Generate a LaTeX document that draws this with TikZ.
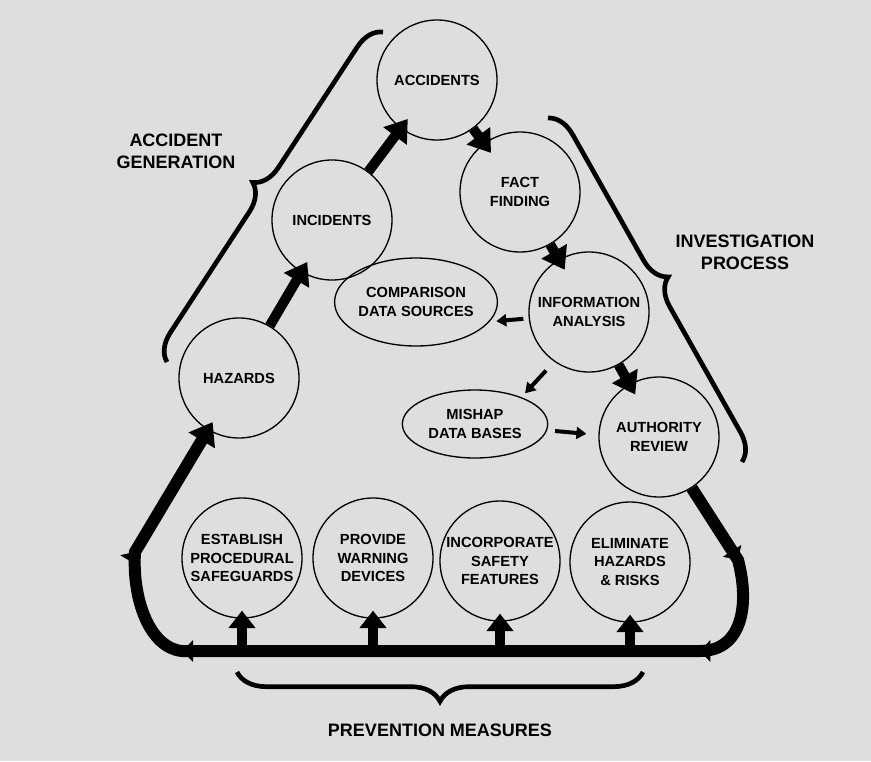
\documentclass[tikz,border=0pt]{standalone}
\usepackage{fontspec}
\setmainfont{Liberation Sans}
\usetikzlibrary{arrows.meta,shapes.geometric,decorations.pathreplacing,decorations.markings,calc}
\begin{document}
\begin{tikzpicture}[x=0.75pt,y=-0.75pt,
  stage/.style={circle,draw=black,line width=1pt,minimum size=90pt,inner sep=0pt,
    align=center,font=\bfseries\fontsize{11}{14}\selectfont},
  source/.style={ellipse,draw=black,line width=1pt,inner sep=0pt,
    align=center,font=\bfseries\fontsize{11}{14}\selectfont},
  heading/.style={align=center,font=\bfseries\fontsize{13.5}{16.5}\selectfont},
  flow/.style={line width=7.5pt,-{Triangle[width=21pt,length=16pt]},shorten >=-9pt},
  lift/.style={line width=7.5pt,-{Triangle[width=19.5pt,length=13pt]},shorten >=-6pt},
  feed/.style={line width=3pt,-{Triangle[width=9pt,length=7.5pt]}},
  returnpath/.style={line width=9pt,-{Triangle[width=22pt,length=16pt]},shorten >=-7pt,
    postaction={decorate,decoration={markings,
      mark=at position 64pt with {\arrow{Triangle[width=16pt,length=8pt]}},
      mark=at position 151pt with {\arrow{Triangle[width=16pt,length=8pt]}},
      mark=at position 539pt with {\arrow{Triangle[width=16pt,length=8pt]}},
      mark=at position 629pt with {\arrow{Triangle[width=16pt,length=8pt]}}}}},
  bracket/.style={line width=3.5pt,decorate,decoration={brace,amplitude=#1}}
]
% halftone-grey page
\fill[black!13] (0,0) rectangle (871,761);

% accident chain
\node[stage] (acc) at (437,80) {ACCIDENTS};
\node[stage] (inc) at (332,220) {INCIDENTS};
\node[stage] (haz) at (239,378) {HAZARDS};

% investigation chain
\node[stage] (fact) at (520,192) {FACT\\FINDING};
\node[stage] (info) at (589,312) {INFORMATION\\ANALYSIS};
\node[stage] (auth) at (659,437) {AUTHORITY\\REVIEW};
\node[source,minimum width=110pt,minimum height=66pt] (comp) at (416,302) {COMPARISON\\DATA SOURCES};
\node[source,minimum width=109pt,minimum height=51pt] (mish) at (475,424) {MISHAP\\DATA BASES};

% prevention measures
\node[stage] (est) at (242,558) {ESTABLISH\\PROCEDURAL\\SAFEGUARDS};
\node[stage] (prov) at (373,558) {PROVIDE\\WARNING\\DEVICES};
\node[stage] (incorp) at (500,561) {INCORPORATE\\SAFETY\\FEATURES};
\node[stage] (elim) at (630,562) {ELIMINATE\\HAZARDS\\\& RISKS};

% corners of the return loop
\coordinate (r1) at (738,560);
\coordinate (r2) at (700,651);
\coordinate (l1) at (182,651);
\coordinate (l2) at (135,552);

% main flow arrows
\draw[flow] (haz) -- (inc);
\draw[flow] (inc) -- (acc);
\draw[flow] (acc) -- (fact);
\draw[flow] (fact) -- (info);
\draw[flow] (info) -- (auth);

% data exchanges
\draw[feed,shorten <=4pt,shorten >=5pt] (info.186) -- (comp.-15);
\draw[feed,shorten <=9pt,shorten >=4pt] (info.235) -- (mish.30);
\draw[feed,shorten <=6pt,shorten >=9pt] (mish.-5) -- (auth.178);

% return loop back to the hazards
\draw[returnpath] (auth) -- (r1) .. controls (750,605) and (742,651) .. (r2)
  -- (l1) .. controls (150,648) and (132,600) .. (l2) -- (haz);

% measures fed from the loop
\draw[lift] (est |- r2) -- (est);
\draw[lift] (prov |- r2) -- (prov);
\draw[lift] (incorp |- r2) -- (incorp);
\draw[lift] (elim |- r2) -- (elim);

% braces and their headings
\draw[bracket=20pt] (167,362) -- (383,32);
\draw[bracket=20pt] (548,118) -- (742,462);
\draw[bracket=22pt] (643,672) -- (237,672);
\node[heading] (gen) at (176,151) {ACCIDENT\\GENERATION};
\node[heading] (inv) at (745,252) {INVESTIGATION\\PROCESS};
\node[heading] (prev) at (440,730) {PREVENTION MEASURES};
\end{tikzpicture}
\end{document}
